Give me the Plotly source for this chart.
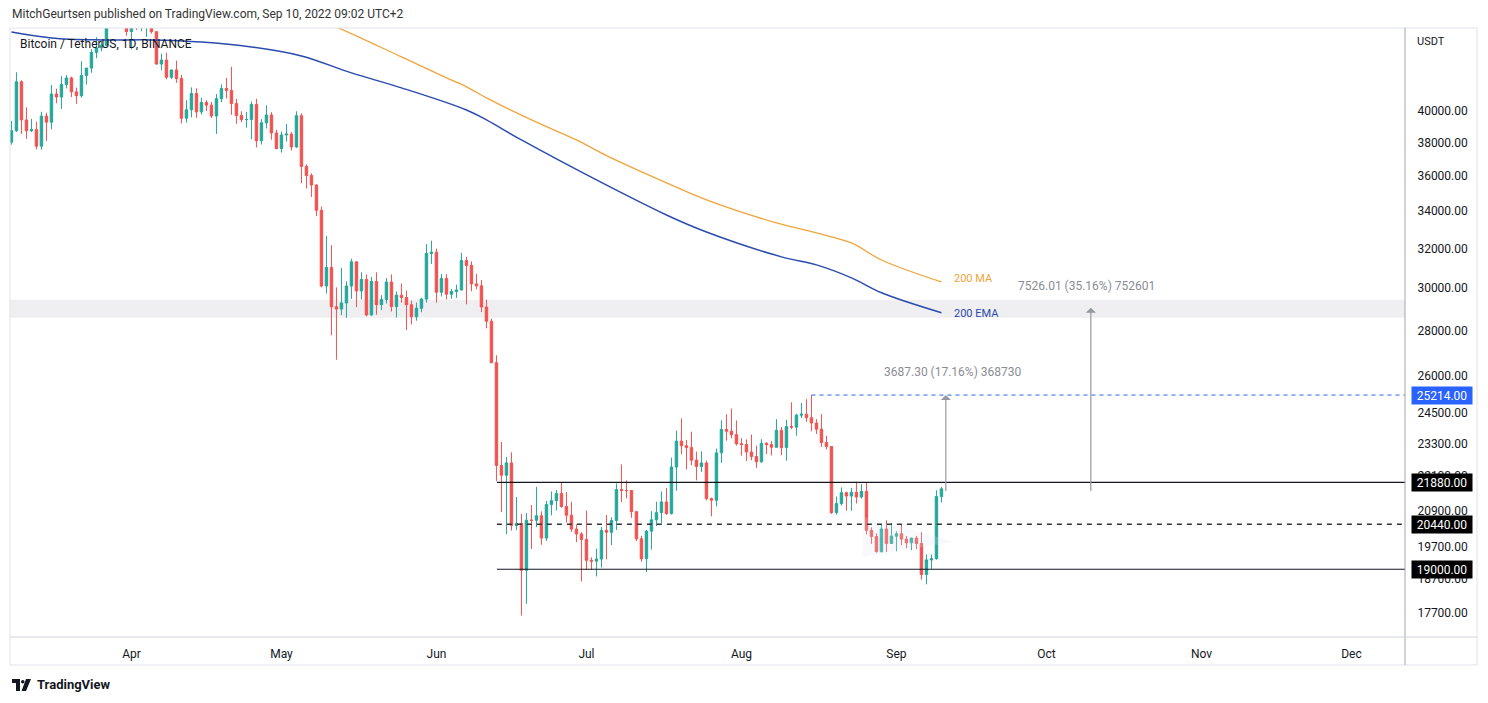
import math
import pandas as pd
import plotly.graph_objects as go

# page / plot box in pixels (TradingView snapshot layout)
W, H = 1488, 703
M_L, M_R, M_T, M_B = 10, 83, 28, 66
PLOT_W = W - M_L - M_R
PLOT_H = H - M_T - M_B

GREEN = "#26A69A"
RED = "#EF5350"
MA_COLOR = "#F0A43C"
EMA_COLOR = "#2B4BAE"
TEXT = "#131722"
GREY = "#8A8D96"
FONT = "Roboto, Liberation Sans, sans-serif"

# BTCUSDT daily candles (open, high, low, close)
mar = [
    (38018, 39362, 37867, 38737), (38738, 42594, 38656, 41941), (41941, 42039, 38539, 39422),
    (39422, 40236, 38223, 38729), (38729, 39486, 38660, 38807), (38807, 39310, 37578, 37777),
    (37777, 39947, 37555, 39671), (39671, 39887, 38098, 39280), (39280, 41718, 38828, 41114),
    (41115, 41478, 40500, 40917), (40917, 42325, 40135, 41757), (41757, 42400, 41499, 42201),
    (42201, 42296, 40911, 41262), (41262, 41544, 40467, 41002), (41002, 43361, 40875, 42364),
    (42364, 42893, 41751, 42882), (42882, 44220, 42560, 43991), (43992, 45094, 43579, 44313),
    (44313, 44792, 44071, 44512), (44512, 46999, 44421, 46820), (46821, 48190, 46664, 47128),
    (47128, 48096, 46950, 47466), (47466, 47700, 46445, 47063), (47063, 47600, 45200, 45511),
]
apr = [
    (45511, 46720, 44200, 46283), (46283, 47213, 45620, 45811), (45811, 47444, 45530, 46407),
    (46407, 46890, 45118, 46580), (46581, 47200, 45353, 45498), (45497, 45507, 43122, 43170),
    (43170, 43900, 42727, 43445), (43445, 43970, 42107, 42253), (42253, 42800, 42125, 42753),
    (42753, 43410, 41868, 42158), (42159, 42414, 39200, 39530), (39530, 40700, 39254, 40075),
    (40075, 41561, 39588, 41148), (41148, 41500, 39551, 39942), (39942, 40870, 39766, 40552),
    (40552, 40709, 39991, 40378), (40378, 40595, 39546, 39679), (39679, 41116, 38536, 40801),
    (40801, 41760, 40571, 41493), (41494, 42199, 40820, 41358), (41358, 42976, 39751, 40480),
    (40480, 40795, 39177, 39709), (39709, 39980, 39285, 39441), (39442, 39940, 38929, 39450),
    (39450, 40616, 38200, 40426), (40427, 40797, 37702, 38112), (38112, 39474, 37881, 39235),
    (39235, 40372, 38881, 39742), (39742, 39921, 38175, 38597), (38597, 38795, 37578, 37630),
]
may = [
    (37630, 38675, 37386, 38468), (38469, 39167, 38052, 38525), (38525, 38651, 37517, 37729),
    (37729, 39980, 37670, 39691), (39691, 39845, 35571, 36553), (36553, 36675, 35258, 36014),
    (36014, 36146, 34785, 35468), (35468, 35510, 33714, 34038), (34038, 34243, 30033, 30100),
    (30100, 32659, 29730, 31017), (31017, 32163, 27785, 29104), (29104, 30033, 26700, 28996),
    (28996, 30999, 28705, 29285), (29285, 30330, 28586, 30098), (30098, 31460, 29480, 31306),
    (31306, 31307, 29087, 29862), (29862, 30780, 29450, 30425), (30425, 30667, 28654, 28716),
    (28716, 30545, 28690, 30320), (30320, 30777, 28730, 29201), (29201, 29656, 28947, 29446),
    (29446, 30487, 29255, 30294), (30294, 30670, 28880, 29110), (29110, 29835, 28600, 29655),
    (29655, 30223, 29294, 29543), (29543, 29879, 28020, 29202), (29201, 29397, 28282, 28630),
    (28630, 29300, 28451, 29031), (29031, 29530, 28839, 29468), (29468, 32222, 29299, 31734),
    (31734, 32399, 31200, 31802),
]
jun = [
    (31802, 31982, 29300, 29799), (29799, 30689, 29594, 30467), (30467, 30679, 29451, 29704),
    (29704, 29946, 29483, 29833), (29833, 30169, 29522, 29907), (29907, 31765, 29882, 31370),
    (31370, 31557, 29218, 31125), (31125, 31326, 29844, 30204), (30204, 30700, 29944, 30109),
    (30109, 30392, 28850, 29091), (29091, 29440, 28100, 28424), (28424, 28544, 26560, 26574),
    (26574, 26895, 21925, 22487), (22485, 23363, 20846, 22136), (22136, 22800, 20111, 22583),
    (22583, 22974, 20232, 20401), (20401, 21365, 20246, 20468), (20468, 20787, 17622, 18970),
    (18970, 20815, 17960, 20574), (20574, 21090, 19637, 20573), (20573, 21723, 20348, 20724),
    (20724, 20873, 19770, 19987), (19988, 21233, 19890, 21110), (21110, 21558, 20740, 21237),
    (21237, 21614, 20906, 21491), (21491, 21868, 20996, 21038), (21038, 21540, 20500, 20742),
    (20742, 21200, 20187, 20281), (20281, 20432, 19854, 20123), (20123, 20179, 18626, 19942),
]
jul = [
    (19942, 20900, 18975, 19279), (19279, 19371, 18978, 19252), (19252, 19648, 18781, 19316),
    (19316, 20354, 19055, 20236), (20236, 20750, 19305, 20175), (20175, 20675, 19761, 20564),
    (20564, 21838, 20251, 21624), (21624, 22527, 21189, 21594), (21594, 21954, 21322, 21591),
    (21592, 21607, 20655, 20862), (20862, 20876, 19890, 19963), (19963, 20059, 19235, 19328),
    (19329, 20250, 18910, 20213), (20213, 20882, 19616, 20588), (20589, 21200, 20382, 20830),
    (20830, 21561, 20484, 21195), (21195, 21684, 20755, 20799), (20799, 22777, 20762, 22432),
    (22432, 23800, 21583, 23396), (23397, 24276, 22906, 23223), (23223, 23442, 22341, 23152),
    (23152, 23757, 22500, 22684), (22685, 22998, 21950, 22451), (22451, 23014, 22257, 22579),
    (22577, 22666, 21250, 21310), (21310, 21345, 20706, 21254), (21254, 23112, 21042, 22952),
    (22954, 24199, 22583, 23843), (23845, 24442, 23415, 23774), (23777, 24668, 23502, 23644),
    (23644, 24194, 23227, 23293),
]
aug = [
    (23296, 23509, 22850, 23268), (23266, 23463, 22654, 22988), (22986, 23647, 22681, 22818),
    (22817, 23226, 22400, 22622), (22622, 23472, 22586, 23313), (23313, 23354, 22909, 23264),
    (23264, 23400, 22855, 23164), (23163, 24245, 23155, 23810), (23810, 23933, 22865, 23150),
    (23151, 24226, 22664, 23954), (23954, 24918, 23853, 23935), (23934, 24456, 23600, 24404),
    (24403, 24888, 24290, 24442), (24442, 25047, 24140, 24305), (24302, 25214, 23773, 24095),
    (24093, 24247, 23671, 23855), (23857, 24446, 23180, 23342), (23342, 23600, 23078, 23191),
    (23191, 23208, 20783, 20834), (20834, 21382, 20762, 21140), (21140, 21700, 21070, 21516),
    (21517, 21548, 20890, 21400), (21400, 21684, 20890, 21529), (21529, 21900, 21145, 21368),
    (21368, 21819, 21310, 21560), (21559, 21886, 20107, 20241), (20240, 20340, 19800, 20037),
    (20037, 20141, 19520, 19550), (19550, 20432, 19525, 20285), (20285, 20575, 19540, 19811),
    (19812, 20490, 19797, 20050),
]
sep = [
    (20050, 20208, 19565, 20127), (20127, 20440, 19753, 19953), (19953, 20055, 19655, 19832),
    (19832, 20000, 19600, 19986), (19988, 20058, 19633, 19812), (19812, 20180, 18681, 18837),
    (18837, 19464, 18540, 19290), (19290, 19459, 19011, 19329), (19328, 21600, 19300, 21381),
    (21381, 21720, 21180, 21650),
]

# 200-day EMA / 200-day MA, read at a few points along the curves
ema_dates = ["2022-03-08", "2022-03-16", "2022-03-26", "2022-04-05", "2022-04-15", "2022-04-25",
             "2022-05-05", "2022-05-15", "2022-05-25", "2022-06-07", "2022-06-11", "2022-06-18",
             "2022-07-03", "2022-07-17", "2022-07-25", "2022-08-09", "2022-08-16", "2022-08-23",
             "2022-08-29", "2022-09-10"]
ema_vals = [45480, 45040, 44890, 44890, 44740, 44380,
            43740, 42550, 41530, 40065, 39420, 38160,
            35760, 33780, 32860, 31560, 31150, 30500,
            29770, 28820]
ma_dates = ["2022-05-01", "2022-05-12", "2022-05-25", "2022-06-03", "2022-06-07", "2022-06-11",
            "2022-06-20", "2022-06-29", "2022-07-05", "2022-07-17", "2022-07-25",
            "2022-08-08", "2022-08-16", "2022-08-23", "2022-08-29", "2022-09-10"]
ma_vals = [47500, 45840, 43670, 42210, 41600, 40860,
           39420, 38160, 37200, 35590, 34620,
           33350, 32810, 32280, 31400, 30300]

# horizontal levels
levels_solid = [21880, 19000]
level_dashed = 20440
recent_high = 25214
zone = (28590, 29430)
measure_from = 21526.7
measure_to = [25214, 29052.7]
measure_text = ["3687.30 (17.16%) 368730", "7526.01 (35.16%) 752601"]

price_ticks = [17700, 18700, 19700, 20900, 22100, 23300, 24500, 26000,
               28000, 30000, 32000, 34000, 36000, 38000, 40000]

rows = mar + apr + may + jun + jul + aug + sep
dates = pd.date_range("2022-03-08", periods=len(rows), freq="D")
opens = [r[0] for r in rows]
highs = [r[1] for r in rows]
lows = [r[2] for r in rows]
closes = [r[3] for r in rows]

X_RANGE = ["2022-03-07 17:00", "2022-12-11 17:00"]
Y_RANGE = [math.log10(17020), math.log10(45770)]
X_END = "2022-12-13"


def px_x(px):
    return (px - M_L) / PLOT_W


def px_y(py):
    return (H - M_B - py) / PLOT_H


fig = go.Figure()

# faint flag triangle drawing
fig.add_trace(go.Scatter(
    x=["2022-08-25 07:00", "2022-08-25 07:00", "2022-09-12 17:00", "2022-08-25 07:00"],
    y=[20690, 19390, 19870, 20690],
    fill="toself", fillcolor="rgba(220,226,240,0.22)", mode="lines",
    line=dict(width=0), hoverinfo="skip", showlegend=False,
))

fig.add_trace(go.Candlestick(
    x=dates, open=opens, high=highs, low=lows, close=closes,
    increasing=dict(line=dict(color=GREEN, width=1), fillcolor=GREEN),
    decreasing=dict(line=dict(color=RED, width=1), fillcolor=RED),
    whiskerwidth=0, showlegend=False, hoverinfo="skip",
))

fig.add_trace(go.Scatter(
    x=ma_dates, y=ma_vals, mode="lines", line=dict(color=MA_COLOR, width=1.3, shape="spline"),
    showlegend=False, hoverinfo="skip",
))
fig.add_trace(go.Scatter(
    x=ema_dates, y=ema_vals, mode="lines", line=dict(color=EMA_COLOR, width=1.5, shape="spline"),
    showlegend=False, hoverinfo="skip",
))

# resistance zone
fig.add_shape(type="rect", xref="paper", x0=0, x1=1, yref="y", y0=zone[0], y1=zone[1],
              fillcolor="#EFEFF2", line=dict(width=0), layer="below")

for lv in levels_solid:
    fig.add_shape(type="line", xref="x", x0="2022-06-13 02:00", x1=X_END, yref="y", y0=lv, y1=lv,
                  line=dict(color=TEXT, width=1.2))
fig.add_shape(type="line", xref="x", x0="2022-06-13 02:00", x1=X_END, yref="y",
              y0=level_dashed, y1=level_dashed, line=dict(color="#333333", width=1.5, dash="5px,5px"))
fig.add_shape(type="line", xref="x", x0="2022-08-15", x1=X_END, yref="y",
              y0=recent_high, y1=recent_high, line=dict(color="#2962FF", width=1, dash="4px,4px"))

# frame
fig.add_shape(type="rect", xref="paper", yref="paper", x0=0, x1=px_x(1477), y0=px_y(665), y1=1,
              line=dict(color="#E0E3EB", width=1))
fig.add_shape(type="line", xref="paper", yref="paper", x0=1, x1=1, y0=px_y(665), y1=1,
              line=dict(color="#A3A6AF", width=1))
fig.add_shape(type="line", xref="paper", yref="paper", x0=0, x1=px_x(1477), y0=0, y1=0,
              line=dict(color="#D1D4DC", width=1))

# measurement arrows
for xd, top, txt, lx, ly in zip(["2022-09-10 21:00", "2022-10-09 21:00"], measure_to, measure_text,
                                [953, 1086], [372, 286]):
    fig.add_annotation(x=xd, y=math.log10(top), ax=xd, ay=math.log10(measure_from),
                       xref="x", yref="y", axref="x", ayref="y", text="", showarrow=True,
                       arrowhead=1, arrowsize=1.4, arrowwidth=1.2, arrowcolor="#9598A1")
    fig.add_annotation(x=px_x(lx), y=px_y(ly), xref="paper", yref="paper", text=txt,
                       showarrow=False, xanchor="center", yanchor="middle",
                       font=dict(size=12, color=GREY, family=FONT))

# indicator labels
fig.add_annotation(x=px_x(952), y=px_y(278), xref="paper", yref="paper", text="200 MA",
                   showarrow=False, xanchor="left", yanchor="middle",
                   font=dict(size=11, color=MA_COLOR, family=FONT))
fig.add_annotation(x=px_x(952), y=px_y(313), xref="paper", yref="paper", text="200 EMA",
                   showarrow=False, xanchor="left", yanchor="middle",
                   font=dict(size=11, color=EMA_COLOR, family=FONT))

# price axis badges
for val, bg in [(recent_high, "#2962FF"), (levels_solid[0], "#000000"),
                (level_dashed, "#000000"), (levels_solid[1], "#000000")]:
    fig.add_annotation(x=px_x(1411), y=math.log10(val), xref="paper", yref="y",
                       text=f"{val:.2f}", showarrow=False, xanchor="left", yanchor="middle",
                       bgcolor=bg, width=58, height=15, borderpad=1,
                       font=dict(size=12, color="white", family=FONT))

# texts
fig.add_annotation(x=0, y=px_y(14), xref="paper", yref="paper", showarrow=False,
                   text="MitchGeurtsen published on TradingView.com, Sep 10, 2022 09:02 UTC+2",
                   xanchor="left", yanchor="middle", font=dict(size=12, color="#333333", family=FONT))
fig.add_annotation(x=px_x(18), y=px_y(44), xref="paper", yref="paper", showarrow=False,
                   text="Bitcoin / TetherUS, 1D, BINANCE", xanchor="left", yanchor="middle",
                   font=dict(size=12, color=TEXT, family=FONT))
fig.add_annotation(x=px_x(1415), y=px_y(42), xref="paper", yref="paper", showarrow=False,
                   text="USDT", xanchor="left", yanchor="middle",
                   font=dict(size=11, color=TEXT, family=FONT))
fig.add_annotation(x=px_x(35), y=px_y(685), xref="paper", yref="paper", showarrow=False,
                   text="<b>TradingView</b>", xanchor="left", yanchor="middle",
                   font=dict(size=13, color=TEXT, family=FONT))

# small TradingView logo
fig.add_shape(type="path", xref="paper", yref="paper",
              path=(f"M {px_x(12)} {px_y(679)} L {px_x(20)} {px_y(679)} L {px_x(20)} {px_y(691)} "
                    f"L {px_x(16)} {px_y(691)} L {px_x(16)} {px_y(683)} L {px_x(12)} {px_y(683)} Z"),
              fillcolor=TEXT, line=dict(width=0))
fig.add_shape(type="circle", xref="paper", yref="paper", x0=px_x(21), x1=px_x(24.5),
              y0=px_y(683.5), y1=px_y(680), fillcolor=TEXT, line=dict(width=0))
fig.add_shape(type="path", xref="paper", yref="paper",
              path=(f"M {px_x(26)} {px_y(679)} L {px_x(31)} {px_y(679)} L {px_x(26)} {px_y(691)} "
                    f"L {px_x(21.5)} {px_y(691)} Z"),
              fillcolor=TEXT, line=dict(width=0))

fig.update_layout(
    width=W, height=H,
    margin=dict(l=M_L, r=M_R, t=M_T, b=M_B),
    paper_bgcolor="white", plot_bgcolor="white",
    font=dict(family=FONT, color=TEXT, size=12),
    showlegend=False,
    xaxis=dict(
        type="date", range=X_RANGE, rangeslider=dict(visible=False),
        tickformat="%b", dtick="M1", tick0="2022-04-01",
        showgrid=False, zeroline=False, showline=False,
        ticks="outside", ticklen=6, tickcolor="rgba(0,0,0,0)",
        tickfont=dict(size=12, color=TEXT, family=FONT),
    ),
    yaxis=dict(
        type="log", side="right", range=Y_RANGE,
        tickvals=price_ticks, ticktext=[f"{v:.2f}" for v in price_ticks],
        showgrid=False, zeroline=False, showline=False,
        ticks="outside", ticklen=9, tickcolor="rgba(0,0,0,0)",
        tickfont=dict(size=12, color=TEXT, family=FONT),
    ),
)

fig.write_html("out.html", config={"displayModeBar": False},
               post_script="document.body.style.margin='0';")
